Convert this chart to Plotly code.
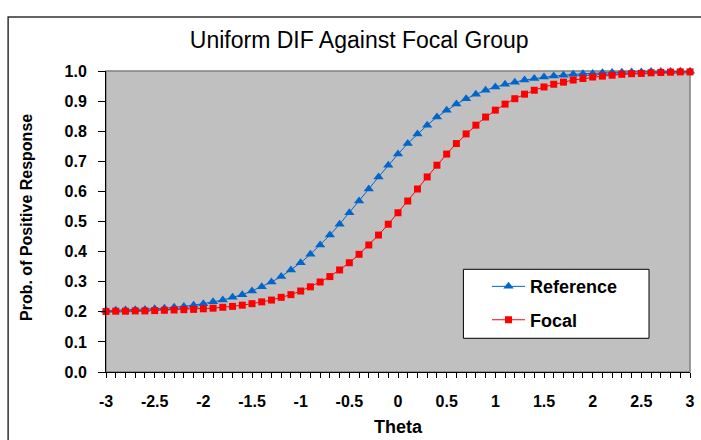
import plotly.graph_objects as go

theta = [round(-3 + 0.1 * i, 1) for i in range(61)]

reference = [
    0.204, 0.205, 0.206, 0.207, 0.208, 0.210, 0.212, 0.215, 0.218, 0.222,
    0.227, 0.233, 0.239, 0.248, 0.257, 0.269, 0.283, 0.299, 0.317, 0.339,
    0.363, 0.391, 0.422, 0.455, 0.491, 0.529, 0.568, 0.608, 0.648, 0.687,
    0.724, 0.759, 0.791, 0.820, 0.847, 0.870, 0.890, 0.908, 0.923, 0.936,
    0.947, 0.956, 0.963, 0.970, 0.975, 0.980, 0.983, 0.986, 0.989, 0.991,
    0.992, 0.994, 0.995, 0.996, 0.997, 0.997, 0.998, 0.998, 0.998, 0.999,
    0.999,
]

focal = [
    0.201, 0.202, 0.202, 0.203, 0.203, 0.204, 0.205, 0.206, 0.207, 0.208,
    0.210, 0.212, 0.215, 0.218, 0.222, 0.227, 0.233, 0.239, 0.248, 0.257,
    0.269, 0.283, 0.299, 0.317, 0.339, 0.363, 0.391, 0.422, 0.455, 0.491,
    0.529, 0.568, 0.608, 0.648, 0.687, 0.724, 0.759, 0.791, 0.820, 0.847,
    0.870, 0.890, 0.908, 0.923, 0.936, 0.947, 0.956, 0.963, 0.970, 0.975,
    0.980, 0.983, 0.986, 0.989, 0.991, 0.992, 0.994, 0.995, 0.996, 0.997,
    0.997,
]

x_tickvals = [-3, -2.5, -2, -1.5, -1, -0.5, 0, 0.5, 1, 1.5, 2, 2.5, 3]
x_ticktext = ["-3", "-2.5", "-2", "-1.5", "-1", "-0.5", "0", "0.5", "1", "1.5", "2", "2.5", "3"]

FONT = "Liberation Sans, Arial, sans-serif"

fig = go.Figure()
fig.add_trace(go.Scatter(
    x=theta, y=reference, name="Reference", mode="lines+markers",
    line=dict(color="#0066CC", width=1),
    marker=dict(symbol="triangle-up", size=9, color="#0066CC"),
    cliponaxis=False, legendgroup="a",
))
fig.add_trace(go.Scatter(
    x=theta, y=focal, name="Focal", mode="lines+markers",
    line=dict(color="#FF0000", width=1),
    marker=dict(symbol="square", size=7, color="#FF0000"),
    cliponaxis=False, legendgroup="b",
))

fig.update_layout(
    width=701, height=440,
    margin=dict(l=106, r=6, t=71, b=68),
    paper_bgcolor="white",
    plot_bgcolor="#C0C0C0",
    font=dict(family=FONT, color="black"),
    title=dict(text="Uniform DIF Against Focal Group", x=0.4335, xref="paper",
               xanchor="center", y=1 - 40 / 440, yanchor="middle",
               font=dict(size=23, family=FONT, color="black")),
    showlegend=True,
    legend=dict(x=0.6524, y=0.345, xanchor="left", yanchor="top",
                bgcolor="rgba(0,0,0,0)", borderwidth=0,
                font=dict(size=18, family=FONT, weight="bold", color="black"),
                tracegroupgap=7, itemwidth=33),
    xaxis=dict(range=[-3, 3], showgrid=False, zeroline=False,
               showline=True, linecolor="black", linewidth=1,
               tickvals=x_tickvals, ticktext=x_ticktext,
               ticks="outside", ticklen=5, tickcolor="black",
               ticklabelstandoff=10,
               minor=dict(dtick=0.1, tick0=-3, ticks="outside", ticklen=5, tickcolor="black", showgrid=False),
               tickfont=dict(size=16, family=FONT, weight="bold", color="black")),
    yaxis=dict(range=[0, 1], showgrid=False, zeroline=False,
               showline=True, linecolor="black", linewidth=1,
               dtick=0.1, tickformat=".1f",
               ticks="outside", ticklen=7, tickcolor="black",
               ticklabelstandoff=8,
               tickfont=dict(size=16, family=FONT, weight="bold", color="black")),
    shapes=[
        dict(type="rect", xref="paper", yref="paper", x0=0, x1=1, y0=0, y1=1,
             line=dict(color="#808080", width=1.5), layer="below"),
        dict(type="rect", xref="paper", yref="paper", x0=-0.1676, x1=1.05, y0=-0.3, y1=1.1794,
             line=dict(color="#303030", width=1.5), layer="below"),
        dict(type="rect", xref="paper", yref="paper", x0=0.612, x1=0.9298, y0=0.112, y1=0.3412,
             line=dict(color="black", width=1), fillcolor="white", layer="above"),
    ],
    annotations=[
        dict(text="Prob. of Positive Response", xref="paper", yref="paper",
             x=(26 - 105.7) / 589, y=0.515, textangle=-90, showarrow=False,
             xanchor="center", yanchor="middle",
             font=dict(size=16, family=FONT, weight="bold", color="black")),
        dict(text="Theta", xref="paper", yref="paper",
             x=0.5, y=(372 - 427) / 301, showarrow=False,
             xanchor="center", yanchor="middle",
             font=dict(size=18, family=FONT, weight="bold", color="black")),
    ],
)

fig.write_html("out.html", config={"displayModeBar": False},
               post_script="document.body.style.margin='0';document.body.style.overflow='hidden';")
